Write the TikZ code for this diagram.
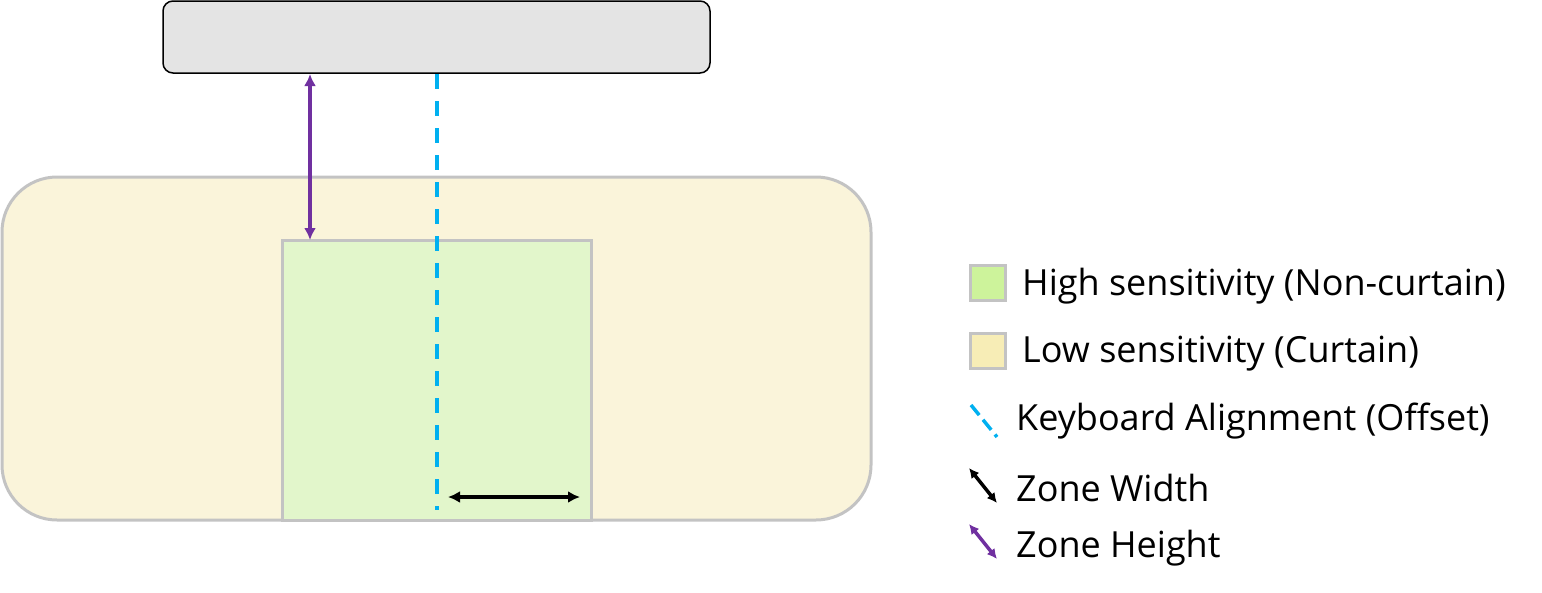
\documentclass[tikz,border=0pt]{standalone}
\usepackage{fontspec}
\setmainfont{Open Sans}
\usetikzlibrary{arrows.meta}
\definecolor{curtain}{HTML}{FAF4DA}
\definecolor{noncurtain}{HTML}{E2F6CB}
\definecolor{curtainkey}{HTML}{F7EDB6}
\definecolor{noncurtainkey}{HTML}{CDF39B}
\definecolor{keyboard}{HTML}{E4E4E4}
\definecolor{edgegray}{HTML}{C3C3C3}
\definecolor{alignblue}{HTML}{00B0F0}
\definecolor{heightpurple}{HTML}{7030A0}
\tikzset{
  zone/.style={draw=edgegray, line width=3pt},
  align line/.style={alignblue, line width=3.5pt, dash pattern=on 15pt off 12pt},
  dim arrow/.style={line width=3.5pt, {Latex[length=12pt,width=12pt]}-{Latex[length=12pt,width=12pt]}},
  key arrow/.style={line width=3.5pt, {Latex[length=10pt,width=10pt]}-{Latex[length=10pt,width=10pt]}},
  legend text/.style={anchor=west, font=\fontsize{36}{40}\selectfont, inner sep=0pt},
  legend box/.style={zone, minimum size=35pt, inner sep=0pt}
}
\begin{document}
\begin{tikzpicture}[x=1pt,y=-1pt]
\useasboundingbox (0,0) rectangle (1542,592);

% zones
\draw[zone, fill=curtain, rounded corners=55pt] (2,177) rectangle (871,520);
\draw[zone, fill=noncurtain] (282,240) rectangle (591,520);
\draw[fill=keyboard, draw=black, line width=1.5pt, rounded corners=10pt] (163,1) rectangle (710,73);

\coordinate (kbtop) at (437,74);
\coordinate (kbbot) at (437,510);
\coordinate (htop) at (310,74);
\coordinate (hbot) at (310,240);
\coordinate (wleft) at (448,497);
\coordinate (wright) at (580,497);

\draw[align line] (kbtop) -- (kbbot);
\draw[dim arrow, heightpurple] (htop) -- (hbot);
\draw[dim arrow, black] (wleft) -- (wright);

% legend
\node[legend box, fill=noncurtainkey] (lgHigh) at (988,283) {};
\node[legend text] (txHigh) at (1022,286) {High sensitivity (Non-curtain)};
\node[legend box, fill=curtainkey] (lgLow) at (988,351) {};
\node[legend text] (txLow) at (1022,354) {Low sensitivity (Curtain)};

\coordinate (lgKa) at (971,405);
\coordinate (lgKb) at (997,437);
\draw[align line, dash pattern=on 13pt off 6pt] (lgKa) -- (lgKb);
\node[legend text] (txKey) at (1016,421) {Keyboard Alignment (Offset)};

\coordinate (lgWa) at (969,468);
\coordinate (lgWb) at (997,503);
\draw[key arrow, black] (lgWa) -- (lgWb);
\node[legend text] (txWidth) at (1016,488) {Zone Width};

\coordinate (lgHa) at (969,524);
\coordinate (lgHb) at (997,559);
\draw[key arrow, heightpurple] (lgHa) -- (lgHb);
\node[legend text] (txHeight) at (1016,548) {Zone Height};

\end{tikzpicture}
\end{document}
